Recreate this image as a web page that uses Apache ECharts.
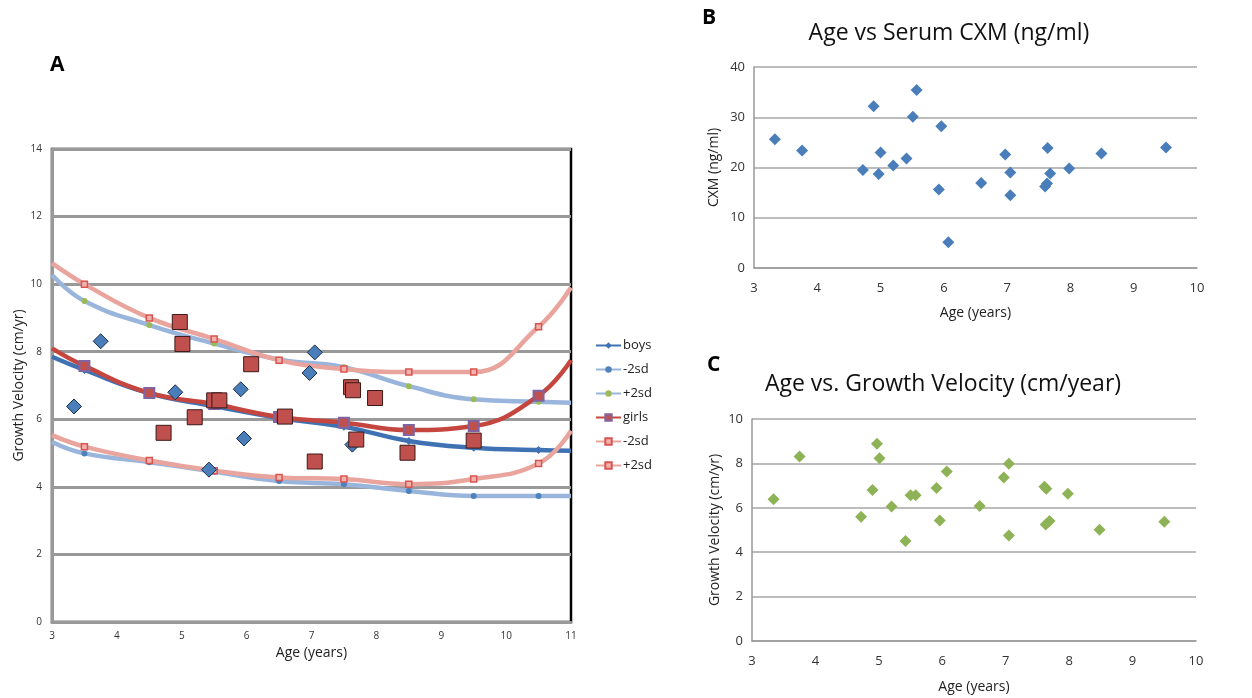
<!DOCTYPE html>
<html lang="en">
<head>
    <meta charset="UTF-8">
    <title>Growth velocity and CXM</title>
    <script src="https://cdn.jsdelivr.net/npm/echarts@6/dist/echarts.min.js"></script>
    <style>
        body { margin: 0; background: #fff; }
    </style>
</head>
<body>
    <div id="main" style="width: 1252px;height:698px;"></div>
    <script>
        // reference curves (panel A)
        var curveAges = [3, 3.5, 4.5, 5.5, 6.5, 7.5, 8.5, 9.5, 10.5, 11];
        var boysMean  = [7.85, 7.46, 6.77, 6.39, 6.04, 5.78, 5.36, 5.16, 5.09, 5.07];
        var boysLow   = [5.33, 4.99, 4.73, 4.45, 4.17, 4.08, 3.88, 3.73, 3.73, 3.73];
        var boysHigh  = [10.27, 9.5, 8.79, 8.24, 7.77, 7.54, 6.98, 6.59, 6.52, 6.49];
        var girlsMean = [8.1, 7.58, 6.78, 6.45, 6.07, 5.9, 5.68, 5.8, 6.7, 7.75];
        var girlsLow  = [5.53, 5.19, 4.78, 4.48, 4.28, 4.23, 4.08, 4.23, 4.69, 5.66];
        var girlsHigh = [10.62, 10.0, 9.0, 8.38, 7.75, 7.49, 7.4, 7.4, 8.74, 9.9];

        // children: age, growth velocity, sex
        var ages     = [3.34, 3.75, 4.72, 4.9, 4.97, 5.01, 5.2, 5.42, 5.5, 5.58, 5.91, 5.96, 6.07, 6.59, 6.97, 7.05, 7.05, 7.61, 7.64, 7.63, 7.69, 7.98, 8.48, 9.5];
        var velocity = [6.38, 8.31, 5.6, 6.8, 8.88, 8.23, 6.06, 4.51, 6.56, 6.56, 6.89, 5.43, 7.63, 6.08, 7.37, 7.98, 4.75, 6.95, 6.86, 5.25, 5.4, 6.63, 5.01, 5.37];
        var sex      = ['b', 'b', 'g', 'b', 'g', 'g', 'g', 'b', 'g', 'g', 'b', 'b', 'g', 'g', 'b', 'b', 'g', 'g', 'g', 'b', 'g', 'g', 'g', 'g'];

        // panel B
        var cxmAges = [3.33, 3.76, 4.72, 4.89, 4.97, 5.0, 5.2, 5.41, 5.51, 5.57, 5.92, 5.96, 6.07, 6.59, 6.97, 7.05, 7.05, 7.6, 7.63, 7.64, 7.68, 7.98, 8.49, 9.51];
        var cxm     = [25.6, 23.4, 19.5, 32.2, 18.7, 23.0, 20.4, 21.8, 30.1, 35.4, 15.6, 28.2, 5.1, 16.9, 22.6, 19.0, 14.5, 16.2, 16.8, 23.9, 18.8, 19.8, 22.8, 24.0];

        var yTicksA = [0, 2, 4, 6, 8, 10, 12, 14];

        var font = 'Open Sans';
        var myChart = echarts.init(document.getElementById('main'));

        function pairs(xs, ys) {
            return xs.map(function (x, i) { return [x, ys[i]]; });
        }
        function pick(s) {
            var out = [];
            ages.forEach(function (a, i) { if (sex[i] === s) out.push([a, velocity[i]]); });
            return out;
        }
        // markers only on the interior reference points
        function innerSize(sz) {
            return function (val) {
                return (val[0] === curveAges[0] || val[0] === curveAges[curveAges.length - 1]) ? 0 : sz;
            };
        }
        function curve(name, data, lineColor, symbol, sz, fill, border, bw) {
            return {
                name: name, type: 'line', xAxisIndex: 0, yAxisIndex: 0,
                data: pairs(curveAges, data), smooth: 0.45,
                symbol: symbol, symbolSize: innerSize(sz), showAllSymbol: true,
                lineStyle: { color: lineColor, width: 4.5 },
                itemStyle: { color: fill, borderColor: border, borderWidth: bw },
                z: 3
            };
        }

        var smallAxisLabel = { fontFamily: font, fontSize: 13, color: '#333', margin: 14 };

        var option = {
            animation: false,
            textStyle: { fontFamily: font },
            title: [
                { text: 'A', left: 45, top: 50, textStyle: { fontFamily: font, fontSize: 21, fontWeight: 'bold', color: '#000' } },
                { text: 'B', left: 697, top: 3, textStyle: { fontFamily: font, fontSize: 21, fontWeight: 'bold', color: '#000' } },
                { text: 'C', left: 702, top: 350, textStyle: { fontFamily: font, fontSize: 21, fontWeight: 'bold', color: '#000' } },
                { text: 'Age vs Serum CXM (ng/ml)', left: 944, top: 17, textAlign: 'center', textStyle: { fontFamily: font, fontSize: 23, fontWeight: 'normal', color: '#111' } },
                { text: 'Age vs. Growth Velocity (cm/year)', left: 938, top: 368, textAlign: 'center', textStyle: { fontFamily: font, fontSize: 23, fontWeight: 'normal', color: '#111' } }
            ],
            legend: {
                left: 590, top: 334, orient: 'vertical', itemGap: 11,
                itemWidth: 25, itemHeight: 8,
                data: ['boys', 'boys -2sd', 'boys +2sd', 'girls', 'girls -2sd', 'girls +2sd'],
                formatter: function (n) { return n.replace('boys ', '').replace('girls ', ''); },
                textStyle: { fontFamily: font, fontSize: 13, color: '#222', padding: [0, 0, 0, -3] }
            },
            grid: [
                { left: 52, top: 149, width: 519, height: 473, show: true, borderColor: '#000', borderWidth: 2.5 },
                { left: 754, top: 67, width: 443, height: 201 },
                { left: 752, top: 419, width: 444, height: 222 }
            ],
            xAxis: [
                {
                    gridIndex: 0, type: 'value', min: 3, max: 11, interval: 1,
                    name: 'Age (years)', nameLocation: 'middle', nameGap: 22,
                    nameTextStyle: { fontFamily: font, fontSize: 14, color: '#222' },
                    axisLine: { lineStyle: { color: '#999', width: 3 } },
                    axisTick: { show: false }, splitLine: { show: false },
                    axisLabel: { fontFamily: font, fontSize: 10, color: '#333', margin: 9 }
                },
                {
                    gridIndex: 1, type: 'value', min: 3, max: 10, interval: 1,
                    name: 'Age (years)', nameLocation: 'middle', nameGap: 38,
                    nameTextStyle: { fontFamily: font, fontSize: 14, color: '#222' },
                    axisLine: { lineStyle: { color: '#999', width: 1.5 } },
                    axisTick: { show: false }, splitLine: { show: false },
                    axisLabel: smallAxisLabel
                },
                {
                    gridIndex: 2, type: 'value', min: 3, max: 10, interval: 1,
                    name: 'Age (years)', nameLocation: 'middle', nameGap: 39,
                    nameTextStyle: { fontFamily: font, fontSize: 14, color: '#222' },
                    axisLine: { lineStyle: { color: '#999', width: 1.5 } },
                    axisTick: { show: false }, splitLine: { show: false },
                    axisLabel: smallAxisLabel
                }
            ],
            yAxis: [
                {
                    gridIndex: 0, type: 'value', min: 0, max: 14, interval: 2,
                    name: 'Growth Velocity (cm/yr)', nameLocation: 'middle', nameGap: 26,
                    nameTextStyle: { fontFamily: font, fontSize: 14, color: '#222' },
                    axisLine: { show: true, lineStyle: { color: '#999', width: 3 } },
                    axisTick: { show: false },
                    splitLine: { lineStyle: { color: '#999', width: 3 } },
                    axisLabel: { fontFamily: font, fontSize: 10, color: '#333', margin: 10,
                        formatter: function (v) { return yTicksA.indexOf(v) >= 0 ? String(v) : ''; } }
                },
                {
                    gridIndex: 1, type: 'value', min: 0, max: 40, interval: 10,
                    name: 'CXM (ng/ml)', nameLocation: 'middle', nameGap: 33,
                    nameTextStyle: { fontFamily: font, fontSize: 14, color: '#222' },
                    axisLine: { show: true, lineStyle: { color: '#999', width: 1.5 } },
                    axisTick: { show: false },
                    splitLine: { lineStyle: { color: '#a6a6a6', width: 1.5 } },
                    axisLabel: { fontFamily: font, fontSize: 13, color: '#333', margin: 9 }
                },
                {
                    gridIndex: 2, type: 'value', min: 0, max: 10, interval: 2,
                    name: 'Growth Velocity (cm/yr)', nameLocation: 'middle', nameGap: 30,
                    nameTextStyle: { fontFamily: font, fontSize: 14, color: '#222' },
                    axisLine: { show: true, lineStyle: { color: '#999', width: 1.5 } },
                    axisTick: { show: false },
                    splitLine: { lineStyle: { color: '#a6a6a6', width: 1.5 } },
                    axisLabel: { fontFamily: font, fontSize: 13, color: '#333', margin: 9 }
                }
            ],
            series: [
                curve('boys', boysMean, '#3f72b3', 'diamond', 8, '#3f72b3', '#3f72b3', 0),
                curve('boys -2sd', boysLow, '#9ab5dc', 'circle', 6, '#4f81bd', '#4f81bd', 0),
                curve('boys +2sd', boysHigh, '#9ab5dc', 'circle', 6, '#9bbb59', '#9bbb59', 0),
                curve('girls', girlsMean, '#c4463f', 'rect', 10, '#c0504d', '#8064a2', 2),
                curve('girls -2sd', girlsLow, '#eaa49e', 'rect', 6, '#f0b4b0', '#d9534f', 1.5),
                curve('girls +2sd', girlsHigh, '#eaa49e', 'rect', 6, '#f0b4b0', '#d9534f', 1.5),
                {
                    name: 'boys pts', type: 'scatter', xAxisIndex: 0, yAxisIndex: 0,
                    data: pick('b'), symbol: 'diamond', symbolSize: 15,
                    itemStyle: { color: '#4a7ebb', borderColor: '#1c2f4a', borderWidth: 1, opacity: 1 }, z: 5
                },
                {
                    name: 'girls pts', type: 'scatter', xAxisIndex: 0, yAxisIndex: 0,
                    data: pick('g'), symbol: 'rect', symbolSize: 15,
                    itemStyle: { color: '#c0504d', borderColor: '#3a1a18', borderWidth: 1, opacity: 1 }, z: 5
                },
                {
                    name: 'cxm', type: 'scatter', xAxisIndex: 1, yAxisIndex: 1,
                    data: pairs(cxmAges, cxm), symbol: 'diamond', symbolSize: 12,
                    itemStyle: { color: '#4a7ebb', opacity: 1 }
                },
                {
                    name: 'gv', type: 'scatter', xAxisIndex: 2, yAxisIndex: 2,
                    data: pairs(ages, velocity), symbol: 'diamond', symbolSize: 12,
                    itemStyle: { color: '#8db356', opacity: 1 }
                }
            ]
        };

        myChart.setOption(option);
    </script>
</body>
</html>
